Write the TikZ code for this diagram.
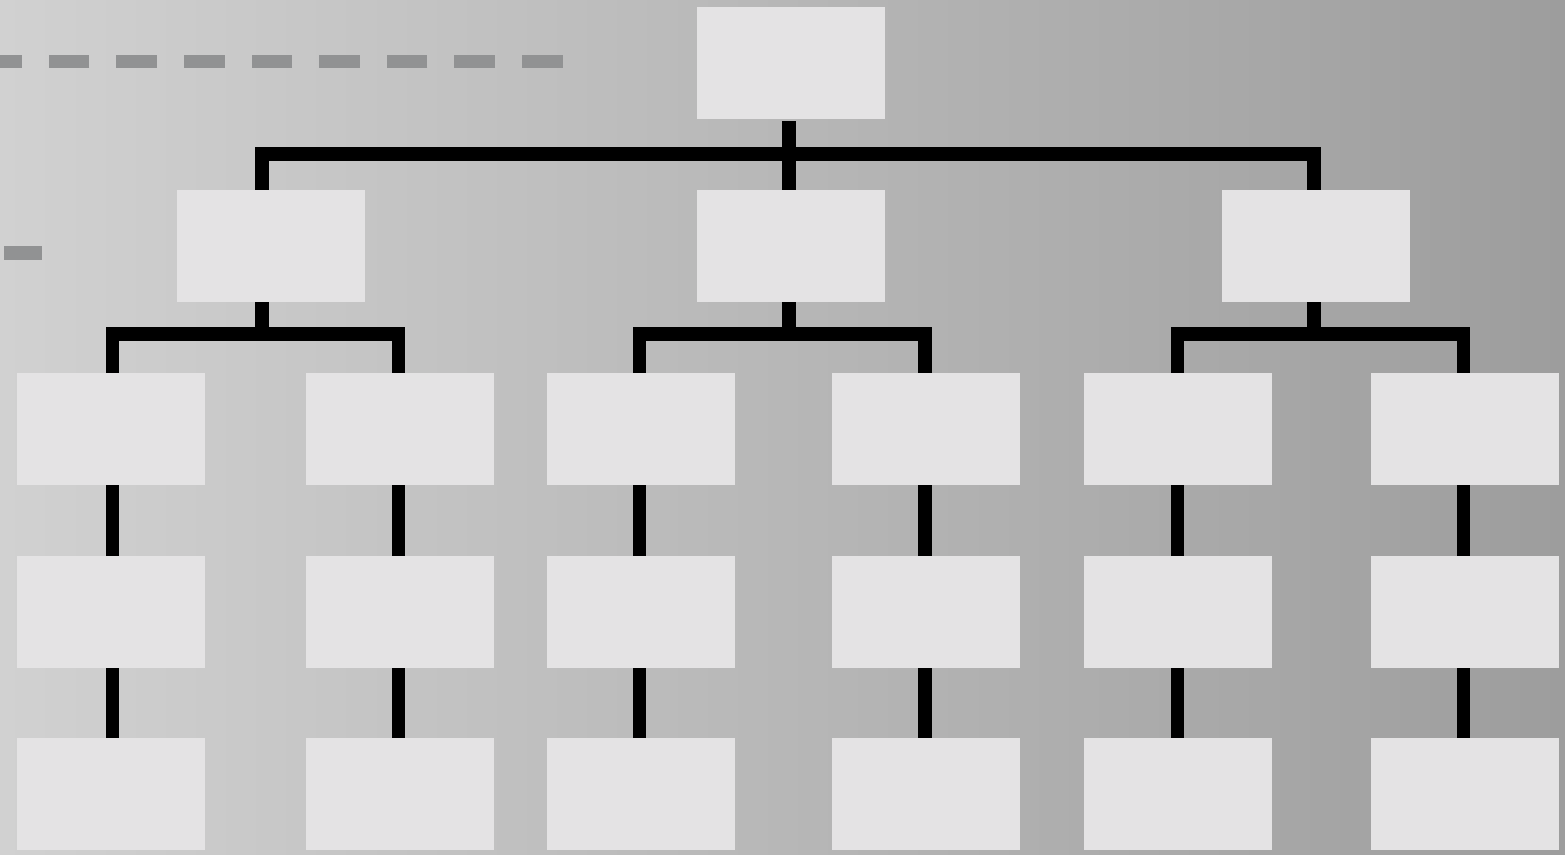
\documentclass[tikz,border=0pt]{standalone}
\usetikzlibrary{calc}
\definecolor{bgL}{RGB}{209,209,209}
\definecolor{bgR}{RGB}{157,157,157}
\definecolor{boxgray}{RGB}{228,227,228}
\definecolor{dashgray}{RGB}{145,146,147}
\begin{document}
\begin{tikzpicture}[x=1pt,y=-1pt,
  box/.style={rectangle,fill=boxgray,draw=none,inner sep=0pt,minimum width=188pt,minimum height=112pt},
  conn/.style={draw=black,line width=13.3pt,line cap=butt,line join=miter},
  guide/.style={draw=dashgray,line width=13.3pt,line cap=butt}]
\shade[left color=bgL,right color=bgR] (0,0) rectangle (1565,854);
\useasboundingbox (0,0) rectangle (1565,854);

% boxes
\node[box] (root) at (791,63) {};
\node[box] (b1) at (271,246) {};
\node[box] (b2) at (791,246) {};
\node[box] (b3) at (1316,246) {};
\foreach \n/\x in {1/111,2/400,3/641,4/926,5/1178,6/1465}{
  \node[box] (c\n) at (\x,429) {};
  \node[box] (d\n) at (\x,612) {};
  \node[box] (e\n) at (\x,794) {};
}

% line positions
\coordinate (La) at (262,0);
\coordinate (Lb) at (789,0);
\coordinate (Lc) at (1314,0);
\coordinate (bar0) at (0,154);
\coordinate (bar1) at (0,334);
\foreach \n/\x in {1/112.7,2/398.3,3/639.3,4/925,5/1177.7,6/1463.3}{
  \coordinate (X\n) at (\x,0);
}

% top level
\draw[conn,shorten <=2pt] (Lb |- root.south) -- (Lb |- b2.north);
\draw[conn] (La |- b1.north) -- (La |- bar0) -- (Lc |- bar0) -- (Lc |- b3.north);

% second level
\draw[conn] (La |- b1.south) -- (La |- bar1);
\draw[conn] (X1 |- c1.north) -- (X1 |- bar1) -- (X2 |- bar1) -- (X2 |- c2.north);
\draw[conn] (Lb |- b2.south) -- (Lb |- bar1);
\draw[conn] (X3 |- c3.north) -- (X3 |- bar1) -- (X4 |- bar1) -- (X4 |- c4.north);
\draw[conn] (Lc |- b3.south) -- (Lc |- bar1);
\draw[conn] (X5 |- c5.north) -- (X5 |- bar1) -- (X6 |- bar1) -- (X6 |- c6.north);

% columns
\foreach \n in {1,...,6}{
  \draw[conn] (X\n |- c\n.south) -- (X\n |- d\n.north);
  \draw[conn] (X\n |- d\n.south) -- (X\n |- e\n.north);
}

% guide dashes
\coordinate (g1) at (562.6,61.7);
\coordinate (g2) at (0,61.7);
\draw[guide,dash pattern=on 40.6pt off 27pt] (g1) -- (g2);
\coordinate (g3) at (4.3,253);
\coordinate (g4) at (42.3,253);
\draw[guide,line width=14pt] (g3) -- (g4);
\end{tikzpicture}
\end{document}
